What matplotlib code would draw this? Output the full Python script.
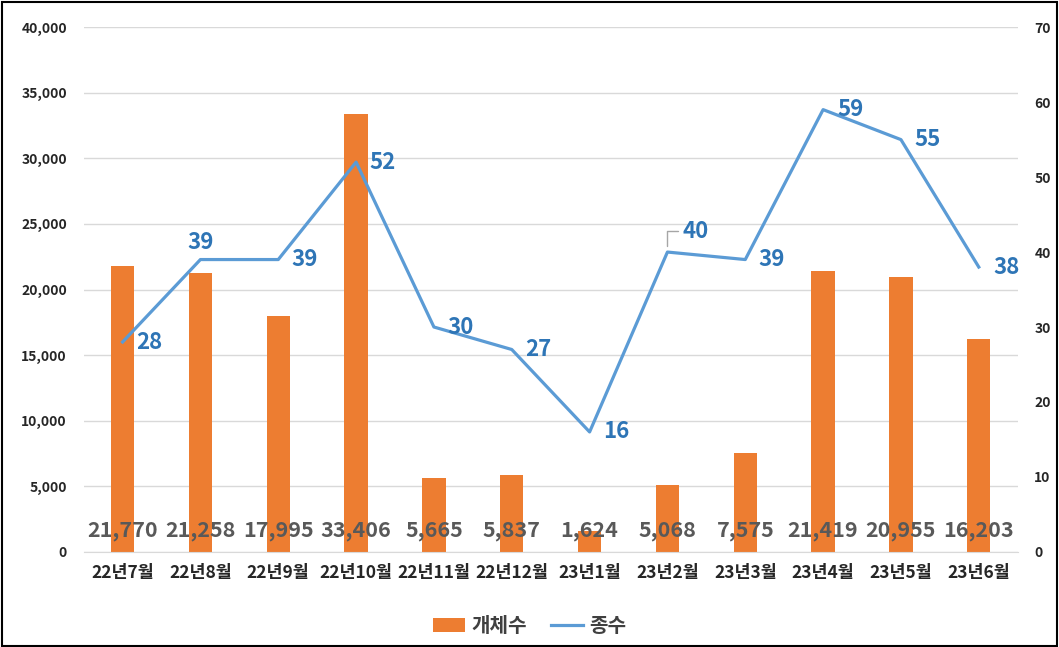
import matplotlib
matplotlib.use("Agg")
import matplotlib.pyplot as plt
from matplotlib.patches import Rectangle

plt.rcParams['font.family'] = ['Noto Sans CJK KR', 'DejaVu Sans']

categories = ["22년7월", "22년8월", "22년9월", "22년10월", "22년11월", "22년12월",
              "23년1월", "23년2월", "23년3월", "23년4월", "23년5월", "23년6월"]
individuals = [21770, 21258, 17995, 33406, 5665, 5837, 1624, 5068, 7575, 21419, 20955, 16203]
species = [28, 39, 39, 52, 30, 27, 16, 40, 39, 59, 55, 38]
left_ticks = [0, 5000, 10000, 15000, 20000, 25000, 30000, 35000, 40000]
right_ticks = [0, 10, 20, 30, 40, 50, 60, 70]

# label offsets in points (dx, dy)
label_offsets = [(19, 0), (0, 12), (19, 0), (19, 0), (19, 0), (19, 0), (19, 0),
                 (20, 15), (19, 0), (20, 0), (19, 0), (20, 0)]

fig = plt.figure(figsize=(10.59, 6.47), dpi=100)
ax = fig.add_axes([0.079, 0.147, 0.882, 0.811])
ax2 = ax.twinx()

x = list(range(len(categories)))
bars = ax.bar(x, individuals, width=0.3, color='#ED7D31', zorder=2, label='개체수')
ax.set_ylim(0, 40000)
ax.set_xlim(-0.5, len(categories) - 0.5)
ax.set_yticks(left_ticks)
ax.set_yticklabels([f"{v:,}" for v in left_ticks])
ax.yaxis.grid(True, color='#D9D9D9', linewidth=1, zorder=0)
ax.set_axisbelow(True)
ax.set_xticks(x)
ax.set_xticklabels(categories, fontsize=12.5, fontweight='bold', color='#262626')
for s in ['top', 'right', 'left']:
    ax.spines[s].set_visible(False)
ax.spines['bottom'].set_color('#D9D9D9')
ax.tick_params(axis='both', length=0)
ax.tick_params(axis='y', labelsize=10, labelcolor='#262626', pad=12)
ax.tick_params(axis='x', pad=9)
for lbl in ax.get_yticklabels():
    lbl.set_fontweight('bold')

for xi, v in zip(x, individuals):
    ax.text(xi, 1600, f"{v:,}", ha='center', va='center', fontsize=15.5,
            fontweight='bold', color='#595959', zorder=5)

line, = ax2.plot(x, species, color='#5B9BD5', linewidth=2.3, zorder=3, label='종수')
ax2.set_ylim(0, 70)
ax2.set_yticks(right_ticks)
for s in ['top', 'right', 'left', 'bottom']:
    ax2.spines[s].set_visible(False)
ax2.tick_params(axis='y', length=0, labelsize=10, labelcolor='#262626', pad=12)
for lbl in ax2.get_yticklabels():
    lbl.set_fontweight('bold')

for i, (xi, v, (dx, dy)) in enumerate(zip(x, species, label_offsets)):
    kw = {}
    if i == 7:
        kw['arrowprops'] = dict(arrowstyle='-', color='#A6A6A6', lw=1,
                                connectionstyle='angle,angleA=0,angleB=90,rad=0',
                                shrinkA=1, shrinkB=4)
    ax2.annotate(str(v), (xi, v), xytext=(dx, dy), textcoords='offset points',
                 ha='center', va='center', fontsize=16, fontweight='bold',
                 color='#2E75B6', zorder=6, **kw)

handles = [bars, line]
fig.legend(handles, ['개체수', '종수'], loc='center', bbox_to_anchor=(0.5, 0.033),
           ncol=2, frameon=False, prop={'size': 14.5, 'weight': 'bold'},
           handlelength=1.6, columnspacing=1.2, handletextpad=0.3,
           labelcolor='#404040')

fig.patches.append(Rectangle((0.0015, 0.002), 0.997, 0.995, transform=fig.transFigure,
                             fill=False, edgecolor='black', linewidth=1.5))

fig.savefig("out.png", dpi=100)
